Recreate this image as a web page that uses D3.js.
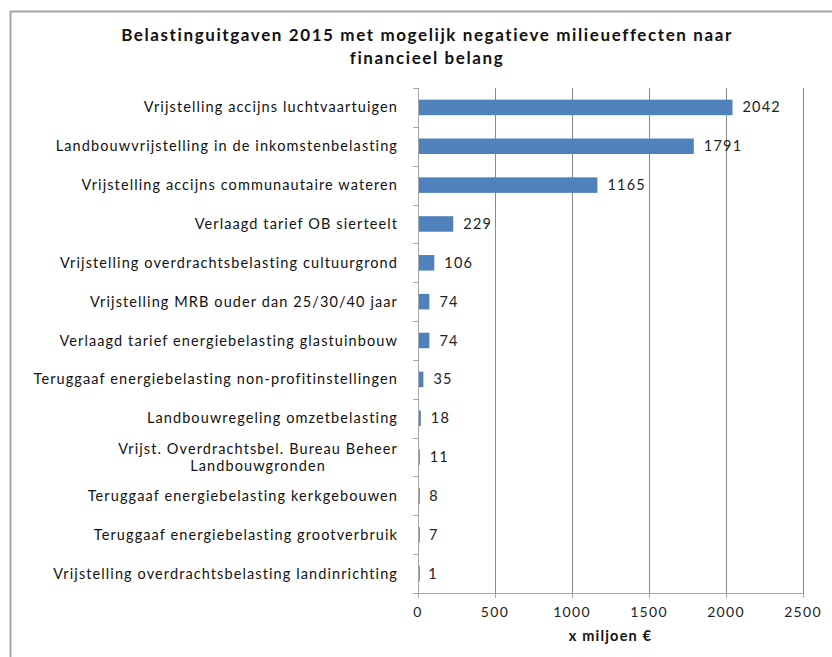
<!DOCTYPE html>
<html>
<head>
<meta charset="utf-8">
<script src="https://cdn.jsdelivr.net/npm/d3@7"></script>
<style>
  body { margin: 0; background: #fff; }
  svg { display: block; font-family: Lato, "Open Sans", sans-serif; }
</style>
</head>
<body>
<div id="chart"></div>
<script>
// Chart data
const titleLines = ["Belastinguitgaven 2015 met mogelijk negatieve milieueffecten naar", "financieel belang"];
const categories = [
    ["Vrijstelling accijns luchtvaartuigen"],
    ["Landbouwvrijstelling in de inkomstenbelasting"],
    ["Vrijstelling accijns communautaire wateren"],
    ["Verlaagd tarief OB sierteelt"],
    ["Vrijstelling overdrachtsbelasting cultuurgrond"],
    ["Vrijstelling MRB ouder dan 25/30/40 jaar"],
    ["Verlaagd tarief energiebelasting glastuinbouw"],
    ["Teruggaaf energiebelasting non-profitinstellingen"],
    ["Landbouwregeling omzetbelasting"],
    ["Vrijst. Overdrachtsbel. Bureau Beheer", "Landbouwgronden"],
    ["Teruggaaf energiebelasting kerkgebouwen"],
    ["Teruggaaf energiebelasting grootverbruik"],
    ["Vrijstelling overdrachtsbelasting landinrichting"]
];
const values = [2042, 1791, 1165, 229, 106, 74, 74, 35, 18, 11, 8, 7, 1];
const xTicks = [0, 500, 1000, 1500, 2000, 2500];
const xTitle = "x miljoen €";

const width = 832, height = 657;
const plot = { left: 418, right: 803, top: 88, bottom: 593 };

const svg = d3.select("#chart").append("svg")
    .attr("width", width)
    .attr("height", height);

// outer frame (cut off at right and bottom like the reference)
svg.append("rect")
    .attr("x", 10.5).attr("y", 11.5)
    .attr("width", width).attr("height", height)
    .style("fill", "none")
    .style("stroke", "#a6a6a6")
    .style("stroke-width", 2);

// title
svg.append("text")
    .attr("text-anchor", "middle")
    .style("font-size", "17px")
    .style("font-weight", "bold")
    .style("letter-spacing", "1.6px")
    .style("fill", "#111")
    .selectAll("tspan")
    .data(titleLines)
    .join("tspan")
    .attr("x", 427)
    .attr("y", (d, i) => 41 + i * 23)
    .text(d => d);

const keys = categories.map((c, i) => "c" + i);

const x = d3.scaleLinear()
    .domain([0, 2500])
    .range([plot.left, plot.right]);

const y = d3.scaleBand()
    .domain(keys)
    .range([plot.top, plot.bottom])
    .paddingInner(0.6)
    .paddingOuter(0.3);

// vertical gridlines
svg.append("g")
    .selectAll("line")
    .data(xTicks.slice(1))
    .join("line")
    .attr("x1", d => x(d) + 0.5).attr("x2", d => x(d) + 0.5)
    .attr("y1", plot.top).attr("y2", plot.bottom)
    .style("stroke", "#8a8a8a")
    .style("stroke-width", 1);

// category axis line + ticks at band boundaries
svg.append("line")
    .attr("x1", plot.left + 0.5).attr("x2", plot.left + 0.5)
    .attr("y1", plot.top).attr("y2", plot.bottom)
    .style("stroke", "#a6a6a6");
const boundaries = d3.range(keys.length + 1).map(i => plot.top + i * y.step());
svg.append("g")
    .selectAll("line")
    .data(boundaries)
    .join("line")
    .attr("x1", plot.left - 5).attr("x2", plot.left)
    .attr("y1", d => Math.round(d) + 0.5).attr("y2", d => Math.round(d) + 0.5)
    .style("stroke", "#a6a6a6");

// value axis line + ticks
svg.append("line")
    .attr("x1", plot.left).attr("x2", plot.right)
    .attr("y1", plot.bottom + 0.5).attr("y2", plot.bottom + 0.5)
    .style("stroke", "#a6a6a6");
svg.append("g")
    .selectAll("line")
    .data(xTicks)
    .join("line")
    .attr("x1", d => x(d) + 0.5).attr("x2", d => x(d) + 0.5)
    .attr("y1", plot.bottom).attr("y2", plot.bottom + 5)
    .style("stroke", "#a6a6a6");

// tick labels
svg.append("g")
    .selectAll("text")
    .data(xTicks)
    .join("text")
    .attr("x", d => x(d))
    .attr("y", plot.bottom + 24)
    .attr("text-anchor", "middle")
    .style("font-size", "14px")
    .style("letter-spacing", "1.3px")
    .style("fill", "#222")
    .text(d => d);

// axis title
svg.append("text")
    .attr("x", (plot.left + plot.right) / 2)
    .attr("y", 641)
    .attr("text-anchor", "middle")
    .style("font-size", "14.5px")
    .style("font-weight", "bold")
    .style("letter-spacing", "1.2px")
    .style("fill", "#111")
    .text(xTitle);

// bars
svg.append("g")
    .selectAll("rect")
    .data(values)
    .join("rect")
    .attr("x", plot.left + 1)
    .attr("y", (d, i) => y(keys[i]))
    .attr("width", d => Math.max(0.8, x(d) - plot.left - 1))
    .attr("height", y.bandwidth())
    .style("fill", "#4f81bd");

// data labels
svg.append("g")
    .selectAll("text")
    .data(values)
    .join("text")
    .attr("x", d => x(d) + 10)
    .attr("y", (d, i) => y(keys[i]) + y.bandwidth() / 2 + 5)
    .style("font-size", "14.5px")
    .style("letter-spacing", "1.2px")
    .style("fill", "#222")
    .text(d => d);

// category labels, right aligned; wrapped lines centred in their block
const labelRight = 398;
categories.forEach((lines, i) => {
    const cy = y(keys[i]) + y.bandwidth() / 2;
    const g = svg.append("text")
        .style("font-size", "14.5px")
        .style("letter-spacing", "1.1px")
        .style("fill", "#111")
        .attr("text-anchor", "middle");
    const tsp = g.selectAll("tspan")
        .data(lines)
        .join("tspan")
        .attr("y", (d, j) => cy + 5 + (j - (lines.length - 1) / 2) * 17)
        .text(d => d);
    // measure widest line to place the block
    let maxW = 0;
    tsp.each(function() { maxW = Math.max(maxW, this.getComputedTextLength()); });
    tsp.attr("x", labelRight - maxW / 2);
});
</script>
</body>
</html>
